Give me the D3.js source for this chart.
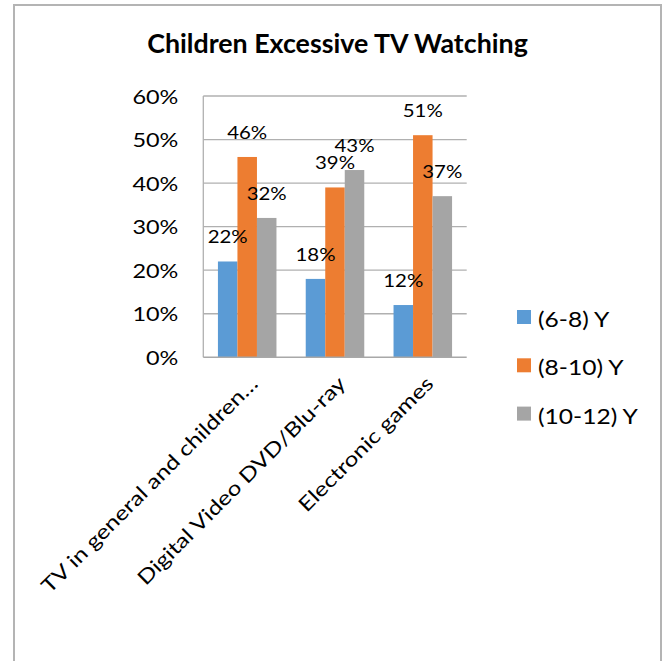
<!DOCTYPE html>
<html>
<head>
<meta charset="utf-8">
<script src="https://cdn.jsdelivr.net/npm/d3@7"></script>
<style>
  body { margin: 0; background: #fff; }
  text { font-family: Lato, "Open Sans", sans-serif; fill: #000; }
</style>
</head>
<body>
<div id="chart"></div>
<script>
// chart data
var categories = ["TV in general and children\u2026", "Digital Video DVD/Blu-ray", "Electronic games"];
var seriesNames = ["(6-8) Y", "(8-10) Y", "(10-12) Y"];
var seriesColors = ["#5b9bd5", "#ed7d31", "#a5a5a5"];
var age6to8 = [0.22, 0.18, 0.12];
var age8to10 = [0.46, 0.39, 0.51];
var age10to12 = [0.32, 0.43, 0.37];
var yTicks = [0, 0.1, 0.2, 0.3, 0.4, 0.5, 0.6];
var chartTitle = "Children Excessive TV Watching";

var width = 665, height = 661;
var plot = { left: 203.3, right: 466.7, top: 96, bottom: 357.3 };

// the source picture is a bit wider than tall, so text gets widened to match
function stretch(k) {
    return function(sel) {
        sel.each(function() {
            var len = this.getComputedTextLength();
            d3.select(this)
              .attr("textLength", len * k)
              .attr("lengthAdjust", "spacingAndGlyphs");
        });
    };
}

var svg = d3.select("#chart").append("svg")
    .attr("width", width)
    .attr("height", height);

svg.append("rect")
    .attr("width", width).attr("height", height)
    .attr("fill", "#fff");

// outer chart border (bottom edge is cut off in the picture)
svg.append("path")
    .attr("d", "M14,665 L14,5 L661,5 L661,665")
    .attr("fill", "none")
    .attr("stroke", "#b4b4b4")
    .attr("stroke-width", 2);

svg.append("text")
    .attr("x", 337.5)
    .attr("y", 53.3)
    .attr("text-anchor", "middle")
    .style("font-size", "26px")
    .style("font-weight", "bold")
    .text(chartTitle)
    .call(stretch(1.03));

// 150% gap width: each group is 3 bars + 1.5 bars of gap
var groupStep = (plot.right - plot.left) / categories.length;
var barW = groupStep / 4.5;

var y = d3.scaleLinear().domain([0, 0.6]).range([plot.bottom, plot.top]);

// gridlines
svg.append("g")
    .selectAll("line")
    .data(yTicks.filter(function(d) { return d > 0; }))
    .enter().append("line")
    .attr("x1", plot.left)
    .attr("x2", plot.right)
    .attr("y1", function(d) { return y(d); })
    .attr("y2", function(d) { return y(d); })
    .attr("stroke", "#b0b0b0")
    .attr("stroke-width", 1.3);

// y axis line
svg.append("line")
    .attr("x1", plot.left).attr("x2", plot.left)
    .attr("y1", y(0.6)).attr("y2", y(0))
    .attr("stroke", "#b0b0b0")
    .attr("stroke-width", 1.3);

var yAxis = svg.append("g")
    .attr("transform", "translate(" + plot.left + ",0)")
    .call(d3.axisLeft(y).tickValues(yTicks).tickFormat(d3.format(".0%")).tickSize(0).tickPadding(25));
yAxis.select(".domain").remove();
yAxis.selectAll("text")
    .attr("dy", "0.36em")
    .style("font-size", "20px")
    .style("font-family", "Lato, sans-serif")
    .attr("fill", "#000")
    .call(stretch(1.17));

var series = [age6to8, age8to10, age10to12];
var barsData = [];
for (var s = 0; s < series.length; s++) {
    for (var c = 0; c < categories.length; c++) {
        barsData.push({ s: s, cat: categories[c], value: series[s][c] });
    }
}

function barX(d) {
    return plot.left + groupStep * categories.indexOf(d.cat) + barW * 0.75 + barW * d.s;
}

svg.append("g")
    .selectAll("rect")
    .data(barsData)
    .enter().append("rect")
    .attr("x", barX)
    .attr("width", barW)
    .attr("y", function(d) { return y(d.value); })
    .attr("height", function(d) { return y(0) - y(d.value); })
    .attr("fill", function(d) { return seriesColors[d.s]; });

// x axis line
svg.append("line")
    .attr("x1", plot.left).attr("x2", plot.right)
    .attr("y1", y(0)).attr("y2", y(0))
    .attr("stroke", "#a8a8a8")
    .attr("stroke-width", 1.6);

// data labels
svg.append("g")
    .selectAll("text")
    .data(barsData)
    .enter().append("text")
    .attr("x", function(d) { return barX(d) + barW / 2; })
    .attr("y", function(d) { return y(d.value) - 18; })
    .attr("text-anchor", "middle")
    .style("font-size", "17px")
    .text(function(d) { return Math.round(d.value * 100) + "%"; })
    .call(stretch(1.2));

// category labels, rotated
svg.append("g")
    .selectAll("text")
    .data(categories)
    .enter().append("text")
    .attr("transform", function(d) {
        var cx = plot.left + groupStep * (categories.indexOf(d) + 0.5);
        return "translate(" + (cx + 12) + ",385) rotate(-45)";
    })
    .attr("text-anchor", "end")
    .style("font-size", "20px")
    .text(function(d) { return d; })
    .call(stretch(1.22));

// legend
var legend = svg.append("g")
    .selectAll("g")
    .data(seriesNames)
    .enter().append("g")
    .attr("transform", function(d, i) { return "translate(517," + (310 + i * 48.3) + ")"; });

legend.append("rect")
    .attr("width", 14).attr("height", 14)
    .attr("fill", function(d, i) { return seriesColors[i]; });

legend.append("text")
    .attr("x", 21)
    .attr("y", 17)
    .style("font-size", "21px")
    .text(function(d) { return d; })
    .call(stretch(1.17));
</script>
</body>
</html>
